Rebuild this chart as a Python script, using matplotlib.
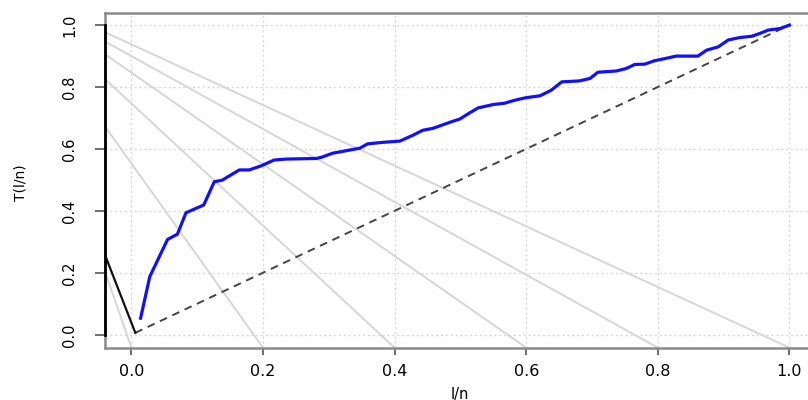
import matplotlib
matplotlib.use("Agg")
import matplotlib.pyplot as plt
import numpy as np

# Blue curve: T(l/n) vs l/n
curve_x = [0.014, 0.028, 0.055, 0.070, 0.083, 0.110, 0.126, 0.138, 0.164, 0.179,
           0.197, 0.217, 0.235, 0.281, 0.289, 0.306, 0.347, 0.359, 0.382, 0.408,
           0.428, 0.443, 0.458, 0.486, 0.499, 0.514, 0.527, 0.550, 0.567, 0.583,
           0.600, 0.621, 0.638, 0.654, 0.681, 0.697, 0.709, 0.737, 0.752, 0.765,
           0.780, 0.795, 0.813, 0.828, 0.861, 0.874, 0.892, 0.907, 0.925, 0.943,
           0.955, 0.968, 0.986, 1.000]
curve_y = [0.055, 0.189, 0.309, 0.326, 0.395, 0.420, 0.495, 0.500, 0.533, 0.533,
           0.546, 0.565, 0.568, 0.570, 0.574, 0.587, 0.603, 0.617, 0.622, 0.626,
           0.645, 0.661, 0.667, 0.688, 0.697, 0.717, 0.733, 0.744, 0.748, 0.758,
           0.766, 0.772, 0.790, 0.817, 0.820, 0.828, 0.848, 0.852, 0.860, 0.873,
           0.874, 0.885, 0.893, 0.900, 0.900, 0.919, 0.930, 0.952, 0.960, 0.964,
           0.973, 0.984, 0.989, 1.000]

# Gray reference lines: y at left edge -> x at bottom edge
gray_left_y = [0.977, 0.947, 0.906, 0.826, 0.673, 0.205]
gray_bottom_x = [1.0, 0.8, 0.6, 0.4, 0.2, 0.0]

# Black line and dashed diagonal
black_x = [-0.041, 0.006]
black_y = [0.264, 0.008]
diag_x = [0.006, 1.0]
diag_y = [0.008, 1.0]

ticks = [0.0, 0.2, 0.4, 0.6, 0.8, 1.0]
tick_labels = ["0.0", "0.2", "0.4", "0.6", "0.8", "1.0"]

XMIN, XMAX = -0.04, 1.04
YMIN, YMAX = -0.04, 1.04

fig = plt.figure(figsize=(8.08, 4.0), dpi=100)
ax = fig.add_axes([0.130, 0.1308, 0.8796, 0.8375])
ax.set_xlim(XMIN, XMAX)
ax.set_ylim(YMIN, YMAX)

# grid
for t in ticks:
    ax.axvline(t, color="#d8d8d8", lw=1.0, ls=(0, (1.5, 2)), zorder=1)
    ax.axhline(t, color="#d8d8d8", lw=1.0, ls=(0, (1.5, 2)), zorder=1)

# gray lines
for ly, bx in zip(gray_left_y, gray_bottom_x):
    ax.plot([XMIN, bx], [ly, YMIN], color="#d6d6d6", lw=1.4, zorder=2, clip_on=True)

ax.plot(diag_x, diag_y, color="#444444", lw=1.4, ls=(0, (4, 3)), zorder=3)
ax.plot(black_x, black_y, color="#111111", lw=1.6, zorder=3)
ax.plot(curve_x, curve_y, color="#1010ff", lw=2.3, zorder=4, solid_joinstyle="round")

# y axis line (R style: from first to last tick)
ax.plot([XMIN, XMIN], [0, 1], color="black", lw=2.0, zorder=5, clip_on=False)

for s in ["top", "bottom", "left", "right"]:
    ax.spines[s].set_color("#8a8a8a")
    ax.spines[s].set_linewidth(1.8)

ax.set_xticks(ticks)
ax.set_xticklabels(tick_labels, fontsize=11.5, family="DejaVu Sans")
ax.set_yticks(ticks)
ax.set_yticklabels(tick_labels, fontsize=10.5, rotation=90, va="center", family="DejaVu Sans")
ax.tick_params(axis="x", length=5, width=1.2, color="#555555", pad=7)
ax.tick_params(axis="y", length=7, width=1.2, color="#555555", pad=13)

fig.text(21 / 808, 1 - 183 / 400, "T(l/n)", rotation=90, ha="center", va="center", fontsize=10)
fig.text(460 / 808, 1 - 394 / 400, "l/n", ha="center", va="center", fontsize=10.5)

fig.savefig("out.png", dpi=100)
